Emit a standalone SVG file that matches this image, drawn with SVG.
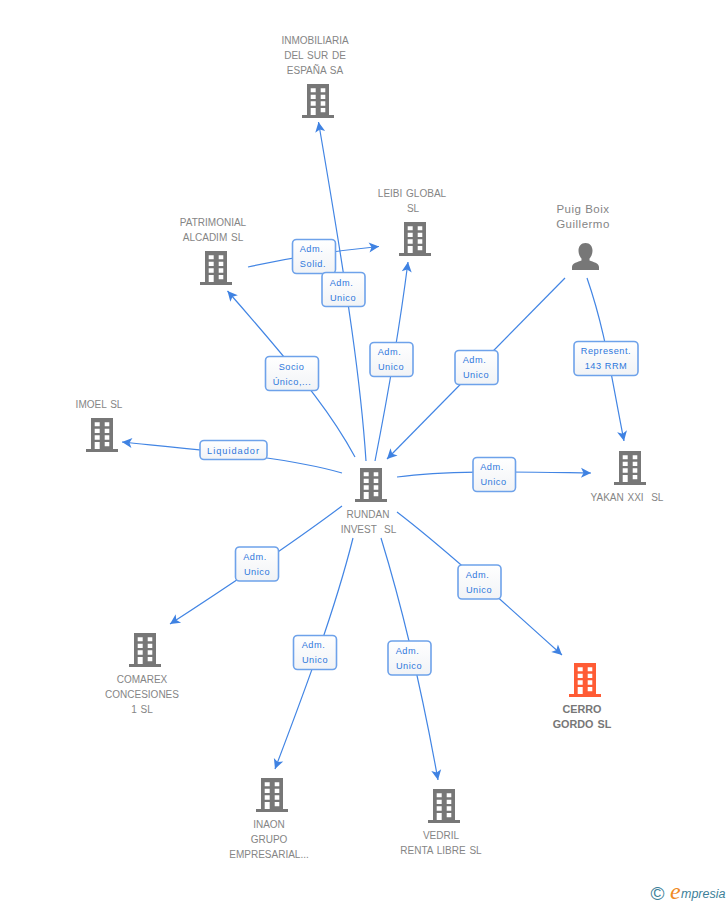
<svg xmlns="http://www.w3.org/2000/svg" width="728" height="905" viewBox="0 0 728 905">
<style>
.e{fill:none;stroke:#4285e4;stroke-width:1.2;marker-end:url(#a)}
.b{fill:url(#g);stroke:#6ea2ea;stroke-width:1.6}
.l{font:9.2px "Liberation Sans",Arial,sans-serif;letter-spacing:.55px;fill:#2f78dc;text-anchor:middle}
.n{font:10px "Liberation Sans",Arial,sans-serif;word-spacing:1px;fill:#858585;text-anchor:middle}
.p{font-size:11.500px;letter-spacing:.5px;word-spacing:0}
.h{font-size:10.800px;font-weight:bold;fill:#777}
</style>
<defs>
<linearGradient id="g" x1="0" y1="0" x2="0" y2="1"><stop offset="0" stop-color="#fff"/><stop offset="1" stop-color="#f1f3f6"/></linearGradient>
<marker id="a" markerUnits="userSpaceOnUse" viewBox="0 0 12 12" refX="11" refY="6" markerWidth="12" markerHeight="12" orient="auto"><path d="M11 6L1 1 3.500 6 1 11Z" fill="#3f82e2"/></marker>
<path id="w" fill-rule="evenodd" d="M-11 0H11V31H16V34H-16V31H-11ZM-7.3 4.3V8.3H-2.3V4.3ZM2.7 4.3V8.3H7.3V4.3ZM-7.3 10.7V15H-2.3V10.7ZM2.7 10.7V15H7.3V10.7ZM-7.3 17.3V21.7H-2.3V17.3ZM2.7 17.3V21.7H7.3V17.3ZM-7.3 24V31H-2.3V24ZM2.7 24V28.3H7.3V24Z"/>
</defs>
<rect width="728" height="905" fill="#fff"/>
<g id="connectors">
<path class="e" d="M366 461C361 385 349 300 318.500 122"/>
<path class="e" d="M375 461C385 410 398 340 408 262"/>
<path class="e" d="M248 267C280 260 320 252 379 246.500"/>
<path class="e" d="M355 457C335 420 310 385 227.500 291"/>
<path class="e" d="M342 473C290 458 220 452 122 442"/>
<path class="e" d="M565 278L387 459"/>
<path class="e" d="M587 278C605 330 610 370 624 441"/>
<path class="e" d="M397 477C450 470 520 472 591 473"/>
<path class="e" d="M397 512C440 545 490 590 562 655"/>
<path class="e" d="M381 538C400 600 420 680 438 780"/>
<path class="e" d="M353 538C335 610 305 690 275 769"/>
<path class="e" d="M342 506C290 545 230 585 170 624"/>
</g>
<g id="edge-labels">
<g><rect class="b" x="292.500" y="239.500" width="43" height="34" rx="4"/><text class="l" x="311.500" y="252">Adm.</text><text class="l" x="313" y="267">Solid.</text></g>
<g><rect class="b" x="322" y="272.500" width="43" height="34" rx="4"/><text class="l" x="341.500" y="286">Adm.</text><text class="l" x="343" y="301">Unico</text></g>
<g><rect class="b" x="370" y="342.500" width="43" height="34" rx="4"/><text class="l" x="389.500" y="355">Adm.</text><text class="l" x="391" y="370">Unico</text></g>
<g><rect class="b" x="265.500" y="356.500" width="53" height="34" rx="4"/><text class="l" x="291.500" y="370">Socio</text><text class="l" x="292" y="385">Único,...</text></g>
<g><rect class="b" x="455" y="350.500" width="43" height="34" rx="4"/><text class="l" x="474.500" y="363">Adm.</text><text class="l" x="476" y="378">Unico</text></g>
<g><rect class="b" x="574" y="341.500" width="64" height="34" rx="4"/><text class="l" x="606" y="354">Represent.</text><text class="l" x="606" y="369">143 RRM</text></g>
<g><rect class="b" x="200" y="440.500" width="67" height="19" rx="4"/><text class="l" x="233.500" y="453.500" style="letter-spacing:1px">Liquidador</text></g>
<g><rect class="b" x="473" y="457.500" width="42.500" height="34" rx="4"/><text class="l" x="492" y="470">Adm.</text><text class="l" x="493.500" y="485">Unico</text></g>
<g><rect class="b" x="458" y="565" width="43" height="34" rx="4"/><text class="l" x="477.500" y="578">Adm.</text><text class="l" x="479" y="593">Unico</text></g>
<g><rect class="b" x="388" y="641" width="43" height="34" rx="4"/><text class="l" x="407.500" y="654">Adm.</text><text class="l" x="409" y="669">Unico</text></g>
<g><rect class="b" x="293.500" y="635.500" width="43" height="34" rx="4"/><text class="l" x="313.500" y="648">Adm.</text><text class="l" x="315" y="663">Unico</text></g>
<g><rect class="b" x="235.500" y="547" width="43" height="34" rx="4"/><text class="l" x="255" y="560">Adm.</text><text class="l" x="257" y="575">Unico</text></g>
</g>
<g id="inmobiliaria"><use href="#w" x="318" y="84" fill="#777"/><text class="n" x="315" y="44">INMOBILIARIA</text><text class="n" x="315" y="59">DEL SUR DE</text><text class="n" x="315" y="74">ESPAÑA SA</text></g>
<g id="leibi"><use href="#w" x="415" y="222" fill="#777"/><text class="n" x="412" y="197">LEIBI GLOBAL</text><text class="n" x="413" y="212">SL</text></g>
<g id="patrimonial"><use href="#w" x="216" y="251" fill="#777"/><text class="n" x="213" y="226">PATRIMONIAL</text><text class="n" x="213" y="241">ALCADIM SL</text></g>
<g id="puig"><path fill="#777" d="M585.500 243C590 243 592.500 246.500 592.500 250.500C592.500 254 591 257 589.500 258.500V260.500C593 262 599 263 599 267V270H572V267C572 263 578 262 581.500 260.500V258.500C580 257 578.500 254 578.500 250.500C578.500 246.500 581 243 585.500 243Z"/><text class="n p" x="583" y="213">Puig Boix</text><text class="n p" x="583" y="228">Guillermo</text></g>
<g id="imoel"><use href="#w" x="102" y="418" fill="#777"/><text class="n" x="99" y="408">IMOEL SL</text></g>
<g id="rundan"><use href="#w" x="371" y="468" fill="#777"/><text class="n" x="368" y="518">RUNDAN</text><text class="n" x="368.500" y="533" xml:space="preserve">INVEST  SL</text></g>
<g id="yakan"><use href="#w" x="630" y="451" fill="#777"/><text class="n" x="627" y="501" xml:space="preserve">YAKAN XXI  SL</text></g>
<g id="cerro"><use href="#w" x="585" y="663" fill="#ff5c35"/><text class="n h" x="582" y="713">CERRO</text><text class="n h" x="582" y="728">GORDO SL</text></g>
<g id="comarex"><use href="#w" x="145" y="633" fill="#777"/><text class="n" x="142" y="683">COMAREX</text><text class="n" x="142" y="698">CONCESIONES</text><text class="n" x="142" y="713">1 SL</text></g>
<g id="inaon"><use href="#w" x="272" y="778" fill="#777"/><text class="n" x="269" y="828">INAON</text><text class="n" x="269" y="843">GRUPO</text><text class="n" x="269" y="858">EMPRESARIAL...</text></g>
<g id="vedril"><use href="#w" x="444" y="789" fill="#777"/><text class="n" x="441" y="839">VEDRIL</text><text class="n" x="441" y="854">RENTA LIBRE SL</text></g>
<g id="logo"><text x="650.500" y="899.500" font-family="'Liberation Sans',sans-serif" font-size="19" fill="#3d7f99">©</text><text x="670" y="899" font-family="'Liberation Serif',serif" font-style="italic" font-size="24" fill="#f08a24">e</text><text x="681" y="898" font-family="'Liberation Sans',sans-serif" font-style="italic" font-size="12.500" fill="#3d7f99">mpresia</text></g>
</svg>
